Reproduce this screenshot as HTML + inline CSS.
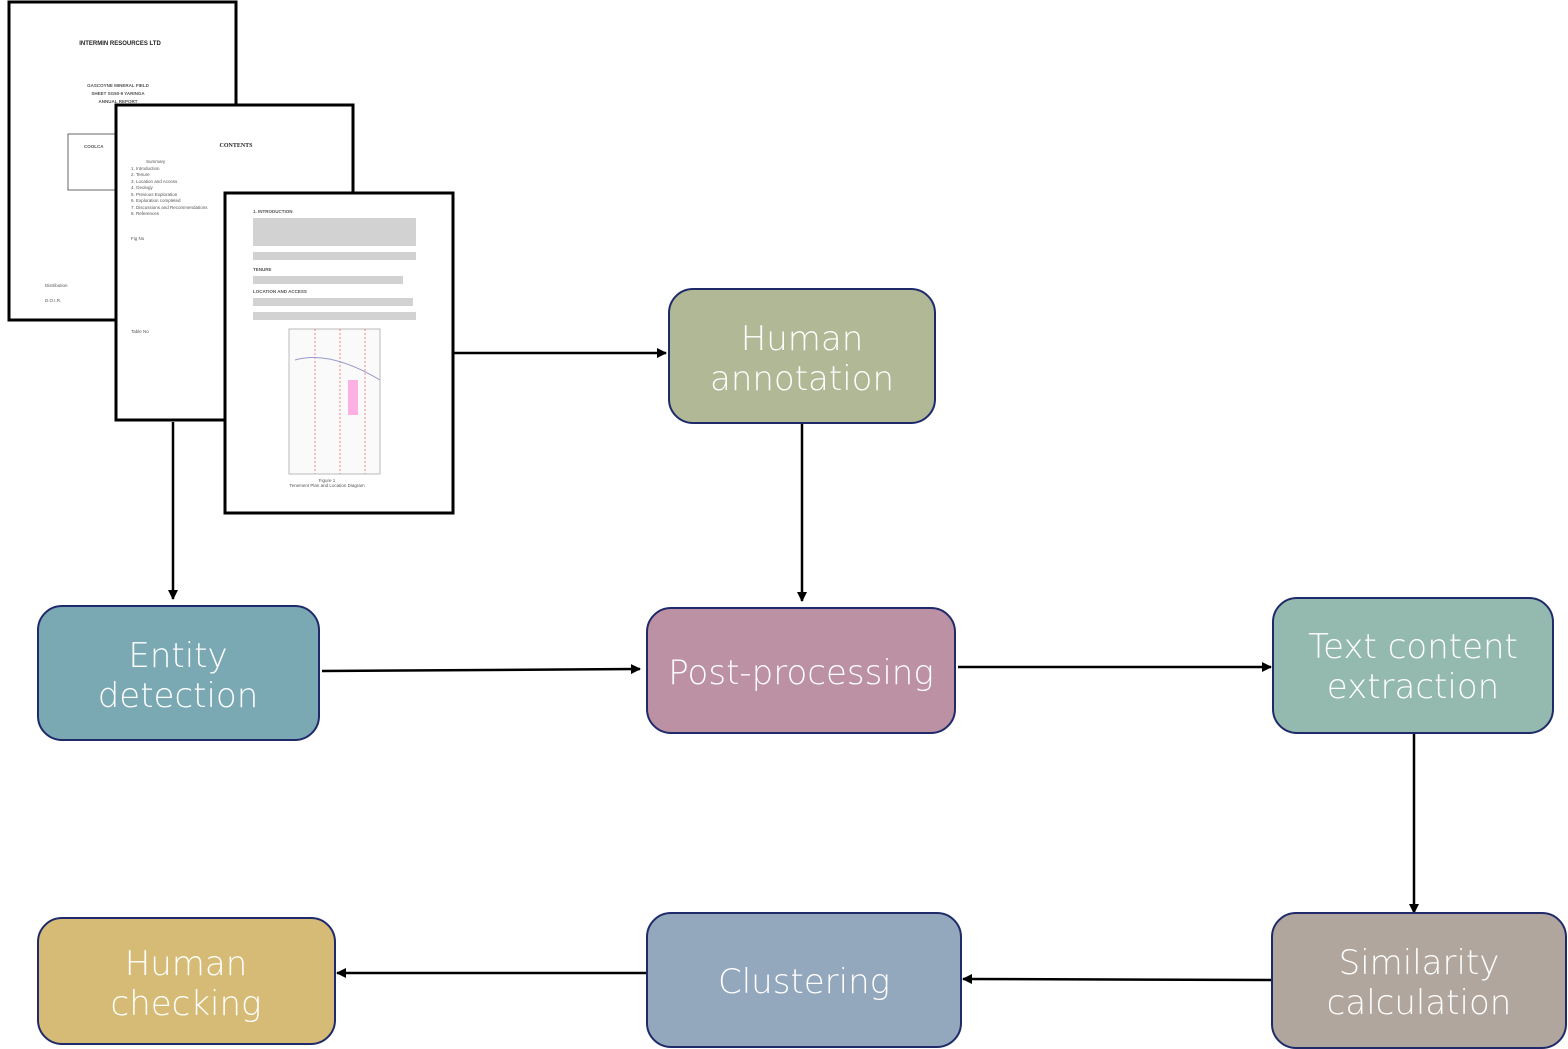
<!DOCTYPE html>
<html><head><meta charset="utf-8"><style>
body{margin:0;background:#fff;}
svg{display:block;font-family:"Liberation Sans",sans-serif;}
.bt{font-size:34px;fill:#fff;text-anchor:middle;font-family:"DejaVu Sans","Liberation Sans",sans-serif;font-weight:300;letter-spacing:0px}
.s{font-size:4.5px;fill:#555}
.sb{font-size:6px;fill:#222;font-weight:bold}
</style></head><body>
<svg width="1568" height="1049" viewBox="0 0 1568 1049" xmlns="http://www.w3.org/2000/svg">
<defs><marker id="ah" markerWidth="10" markerHeight="10" refX="9" refY="5" orient="auto" markerUnits="userSpaceOnUse"><path d="M0,0 L10,5 L0,10 z" fill="#000"/></marker></defs>

<g>
<rect x="9" y="2" width="227" height="318" fill="#fff" stroke="#000" stroke-width="3"/>
<text x="120" y="45" class="sb" text-anchor="middle">INTERMIN RESOURCES LTD</text>
<text x="118" y="87" class="s" text-anchor="middle" font-weight="bold">GASCOYNE MINERAL FIELD</text>
<text x="118" y="95" class="s" text-anchor="middle" font-weight="bold">SHEET SG50-9 YARINGA</text>
<text x="118" y="103" class="s" text-anchor="middle" font-weight="bold">ANNUAL REPORT</text>
<rect x="68" y="134" width="60" height="56" fill="none" stroke="#666"/>
<text x="84" y="148" class="s" font-weight="bold">COOLCA</text>
<text x="45" y="287" class="s">Distribution</text><text x="45" y="302" class="s">D.O.I.R.</text>
</g>
<line x1="173" y1="422" x2="173" y2="599" stroke="#000" stroke-width="2.5" marker-end="url(#ah)"/>
<g>
<rect x="116" y="105" width="237" height="315" fill="#fff" stroke="#000" stroke-width="3"/>
<text x="236" y="147" class="sb" text-anchor="middle" font-family="Liberation Serif">CONTENTS</text>
<text x="146" y="163" class="s">Summary</text>
<text x="131" y="170" class="s">1.      Introduction</text>
<text x="131" y="176" class="s">2.      Tenure</text>
<text x="131" y="183" class="s">3.      Location and Access</text>
<text x="131" y="189" class="s">4.      Geology</text>
<text x="131" y="196" class="s">5.      Previous Exploration</text>
<text x="131" y="202" class="s">6.      Exploration completed</text>
<text x="131" y="209" class="s">7.      Discussions and Recommendations</text>
<text x="131" y="215" class="s">8.      References</text>
<text x="131" y="240" class="s">Fig No</text>
<text x="131" y="333" class="s">Table No</text>
</g>
<g>
<rect x="225" y="193" width="228" height="320" fill="#fff" stroke="#000" stroke-width="3"/>
<text x="253" y="213" class="s" font-weight="bold">1.   INTRODUCTION</text>
<g fill="#d2d2d2"><rect x="253" y="218" width="163" height="28"/><rect x="253" y="252" width="163" height="8"/><rect x="253" y="276" width="150" height="8"/><rect x="253" y="298" width="160" height="8"/><rect x="253" y="312" width="163" height="8"/></g>
<text x="253" y="271" class="s" font-weight="bold">TENURE</text>
<text x="253" y="293" class="s" font-weight="bold">LOCATION AND ACCESS</text>
<rect x="289" y="329" width="91" height="145" fill="#fafafa" stroke="#bbb"/>
<path d="M340,329 L340,474 M315,329 L315,474 M365,329 L365,474" stroke="#e88" stroke-dasharray="2,2" fill="none"/>
<path d="M295,360 Q330,350 380,380" stroke="#99c" fill="none"/>
<rect x="348" y="380" width="10" height="35" fill="#f6c" opacity="0.5"/>
<text x="327" y="482" class="s" text-anchor="middle">Figure 1</text>
<text x="327" y="487" class="s" text-anchor="middle">Tenement Plan and Location Diagram</text>
</g>

<g stroke="#000" stroke-width="2.5" fill="none">
<line x1="454" y1="353" x2="666" y2="353" marker-end="url(#ah)"/>
<line x1="802" y1="422" x2="802" y2="601" marker-end="url(#ah)"/>
<line x1="322" y1="671" x2="640" y2="669" marker-end="url(#ah)"/>
<line x1="958" y1="667" x2="1271" y2="667" marker-end="url(#ah)"/>
<line x1="1414" y1="734" x2="1414" y2="913" marker-end="url(#ah)"/>
<line x1="1271" y1="980" x2="963" y2="979" marker-end="url(#ah)"/>
<line x1="647" y1="973" x2="337" y2="973" marker-end="url(#ah)"/>
</g>

<g stroke="#1f2a6b" stroke-width="2">
<g><rect x="669" y="289" width="266" height="134" rx="24" fill="#b0b896"/><text class="bt" x="802" y="350" stroke="none">Human</text><text class="bt" x="802" y="390" stroke="none">annotation</text></g>
<g><rect x="38" y="606" width="281" height="134" rx="24" fill="#7aa9b4"/><text class="bt" x="178" y="667" stroke="none">Entity</text><text class="bt" x="178" y="707" stroke="none">detection</text></g>
<g><rect x="647" y="608" width="308" height="125" rx="24" fill="#bc91a4"/><text class="bt" x="801" y="684" stroke="none">Post-processing</text></g>
<g><rect x="1273" y="598" width="280" height="135" rx="24" fill="#94b9ae"/><text class="bt" x="1413" y="658" stroke="none">Text content</text><text class="bt" x="1413" y="698" stroke="none">extraction</text></g>
<g><rect x="1272" y="913" width="294" height="135" rx="24" fill="#b0a69d"/><text class="bt" x="1419" y="974" stroke="none">Similarity</text><text class="bt" x="1419" y="1014" stroke="none">calculation</text></g>
<g><rect x="647" y="913" width="314" height="134" rx="24" fill="#93a7bd"/><text class="bt" x="804" y="993" stroke="none">Clustering</text></g>
<g><rect x="38" y="918" width="297" height="126" rx="24" fill="#d5bb76"/><text class="bt" x="186" y="975" stroke="none">Human</text><text class="bt" x="186" y="1015" stroke="none">checking</text></g>
</g>
</svg>
</body></html>
